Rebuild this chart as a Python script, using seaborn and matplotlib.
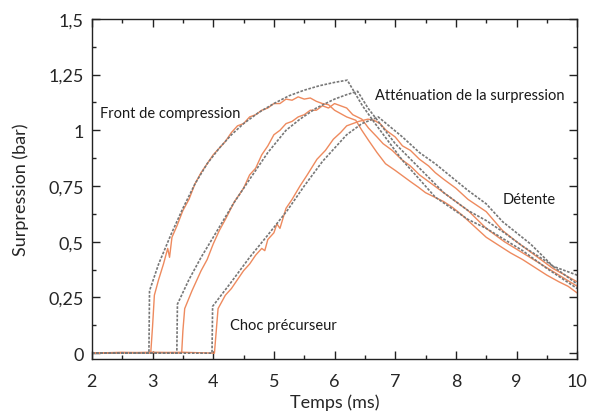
import matplotlib
matplotlib.use("Agg")
import matplotlib.pyplot as plt
import seaborn as sns
import pandas as pd
from matplotlib.ticker import MultipleLocator, FuncFormatter

# ---- data ----
# model curves (grey dashed)
g1_t = [2.0, 2.94, 2.95, 3.1, 3.3, 3.5, 3.7, 3.9, 4.1, 4.3, 4.5, 4.75, 5.0, 5.25, 5.5, 5.75, 6.0, 6.21,
        6.46, 6.67, 7.12, 7.4, 7.66, 8.2, 8.5, 8.8, 9.1, 9.5, 10.0]
g1_p = [0.0, 0.0, 0.28, 0.40, 0.53, 0.65, 0.76, 0.85, 0.92, 0.98, 1.03, 1.08, 1.12, 1.155, 1.18, 1.20, 1.215, 1.225,
        1.11, 1.03, 0.865, 0.78, 0.70, 0.60, 0.56, 0.51, 0.46, 0.38, 0.29]

g2_t = [2.0, 3.40, 3.41, 3.6, 3.8, 4.0, 4.33, 4.6, 4.9, 5.2, 5.43, 5.7, 6.0, 6.2, 6.38,
        6.55, 6.72, 7.0, 7.4, 7.8, 8.2, 8.5, 8.8, 9.1, 9.5, 10.0]
g2_p = [0.0, 0.0, 0.22, 0.33, 0.43, 0.52, 0.67, 0.78, 0.90, 1.00, 1.05, 1.10, 1.14, 1.16, 1.175,
        1.10, 1.04, 0.94, 0.83, 0.72, 0.64, 0.595, 0.54, 0.48, 0.41, 0.31]

g3_t = [2.0, 3.98, 3.99, 4.3, 4.6, 4.9, 5.22, 5.5, 5.8, 6.0, 6.2, 6.45, 6.72,
        7.12, 7.4, 7.66, 8.2, 8.5, 8.77, 9.23, 9.6, 10.0]
g3_p = [0.0, 0.0, 0.21, 0.32, 0.43, 0.53, 0.64, 0.75, 0.86, 0.92, 0.98, 1.03, 1.06,
        0.97, 0.90, 0.85, 0.73, 0.67, 0.59, 0.49, 0.39, 0.35]

# measured curves (orange)
o1_t = [2.0, 2.5, 2.97, 3.0, 3.03, 3.1, 3.18, 3.25, 3.28, 3.32, 3.4, 3.5, 3.6, 3.7, 3.8, 3.9, 4.0, 4.1, 4.2,
        4.3, 4.4, 4.5, 4.6, 4.7, 4.8, 4.9, 5.0, 5.1, 5.2, 5.3, 5.4, 5.5, 5.6, 5.7, 5.8, 5.9, 6.0, 6.1,
        6.2, 6.35, 6.45, 6.56, 6.7, 6.84, 7.0, 7.1, 7.25, 7.38, 7.5, 7.65, 7.8, 7.94, 8.1, 8.3, 8.5,
        8.7, 8.9, 9.1, 9.3, 9.5, 9.7, 9.85, 10.0]
o1_p = [0.0, 0.004, 0.0, 0.12, 0.26, 0.33, 0.40, 0.47, 0.43, 0.52, 0.57, 0.64, 0.69, 0.76, 0.81, 0.85, 0.89, 0.92, 0.95,
        0.99, 1.02, 1.03, 1.06, 1.07, 1.09, 1.10, 1.12, 1.12, 1.14, 1.135, 1.15, 1.14, 1.145, 1.13, 1.12, 1.115, 1.09, 1.075,
        1.06, 1.045, 1.0, 0.955, 0.90, 0.85, 0.82, 0.80, 0.77, 0.745, 0.72, 0.70, 0.68, 0.655, 0.62, 0.57, 0.52,
        0.485, 0.45, 0.42, 0.385, 0.35, 0.32, 0.30, 0.27]

o2_t = [2.0, 3.0, 3.48, 3.5, 3.53, 3.65, 3.8, 3.9, 4.0, 4.1, 4.2, 4.35, 4.5, 4.6, 4.7, 4.8, 4.9, 5.0, 5.1, 5.2,
        5.3, 5.4, 5.5, 5.6, 5.7, 5.8, 5.9, 6.0, 6.1, 6.2, 6.3, 6.45, 6.56, 6.7, 6.8, 6.95, 7.1, 7.25, 7.4,
        7.6, 7.8, 8.0, 8.2, 8.5, 8.8, 9.1, 9.4, 9.7, 10.0]
o2_p = [0.0, 0.004, 0.0, 0.10, 0.20, 0.28, 0.37, 0.42, 0.49, 0.55, 0.60, 0.68, 0.74, 0.80, 0.83, 0.89, 0.93, 0.98, 1.0, 1.03,
        1.04, 1.06, 1.07, 1.09, 1.09, 1.11, 1.10, 1.12, 1.11, 1.10, 1.07, 1.05, 1.01, 0.97, 0.94, 0.91, 0.87, 0.84, 0.80,
        0.76, 0.72, 0.68, 0.64, 0.56, 0.50, 0.45, 0.40, 0.35, 0.30]

o3_t = [2.0, 3.5, 4.02, 4.05, 4.08, 4.2, 4.3, 4.4, 4.5, 4.6, 4.7, 4.8, 4.85, 4.9, 5.0, 5.05, 5.1, 5.2, 5.3, 5.43,
        5.55, 5.71, 5.85, 5.98, 6.1, 6.2, 6.3, 6.4, 6.55, 6.65, 6.75, 6.85, 7.0, 7.12, 7.25, 7.4, 7.55, 7.66,
        7.8, 8.0, 8.2, 8.5, 8.77, 9.0, 9.3, 9.6, 10.0]
o3_p = [0.0, 0.004, 0.0, 0.10, 0.20, 0.26, 0.29, 0.33, 0.37, 0.40, 0.44, 0.47, 0.46, 0.51, 0.54, 0.58, 0.56, 0.65, 0.69, 0.75,
        0.80, 0.87, 0.91, 0.96, 0.99, 1.02, 1.03, 1.04, 1.05, 1.045, 1.03, 1.00, 0.97, 0.93, 0.91, 0.87, 0.84, 0.81,
        0.78, 0.74, 0.69, 0.635, 0.55, 0.50, 0.44, 0.38, 0.32]

x_ticks = [2, 3, 4, 5, 6, 7, 8, 9, 10]
y_ticks = [0, 0.25, 0.5, 0.75, 1.0, 1.25, 1.5]
y_tick_labels = ["0", "0,25", "0,5", "0,75", "1", "1,25", "1,5"]

annotations = [
    ("Front de compression", 2.13, 1.077),
    ("Atténuation de la surpression", 6.67, 1.157),
    ("Détente", 8.77, 0.69),
    ("Choc précurseur", 4.28, 0.125),
]

# ---- figure ----
sns.set_style("ticks")
plt.rcParams["font.family"] = ["Lato", "DejaVu Sans"]

fig = plt.figure(figsize=(5.89, 4.14), dpi=100)
ax = fig.add_axes([0.156, 0.130, 0.824, 0.822])

grey = "#777777"
orange = "#ee8a5e"

orange_curves = [(o1_t, o1_p), (o2_t, o2_p), (o3_t, o3_p)]
grey_curves = [(g1_t, g1_p), (g2_t, g2_p), (g3_t, g3_p)]

for t, p in orange_curves:
    sns.lineplot(x=t, y=p, ax=ax, color=orange, linewidth=1.0, sort=False, estimator=None)
for t, p in grey_curves:
    sns.lineplot(x=t, y=p, ax=ax, color=grey, linewidth=1.2, sort=False, estimator=None,
                 linestyle=(0, (1.6, 0.9)))

ax.set_xlim(2, 10)
ax.set_ylim(-0.027, 1.5)
ax.set_xticks(x_ticks)
ax.set_xticklabels([str(v) for v in x_ticks])
ax.set_yticks(y_ticks)
ax.set_yticklabels(y_tick_labels)
ax.xaxis.set_minor_locator(MultipleLocator(0.5))
ax.yaxis.set_minor_locator(MultipleLocator(0.125))
ax.tick_params(which="both", direction="in", top=True, right=True, color="#222222", width=1.0)
ax.tick_params(which="major", length=6, labelsize=13)
ax.tick_params(axis="x", which="major", pad=10)
ax.tick_params(axis="y", which="major", pad=6)
ax.tick_params(which="minor", length=3)
for s in ax.spines.values():
    s.set_visible(True)
    s.set_linewidth(1.0)
    s.set_color("#222222")

ax.set_xlabel("Temps (ms)", fontsize=13, labelpad=3)
ax.set_ylabel("Surpression (bar)", fontsize=13, labelpad=14)

for txt, tx, ty in annotations:
    ax.text(tx, ty, txt, fontsize=10.5, ha="left", va="center", color="#1a1a1a")

fig.savefig("out.png", dpi=100)
